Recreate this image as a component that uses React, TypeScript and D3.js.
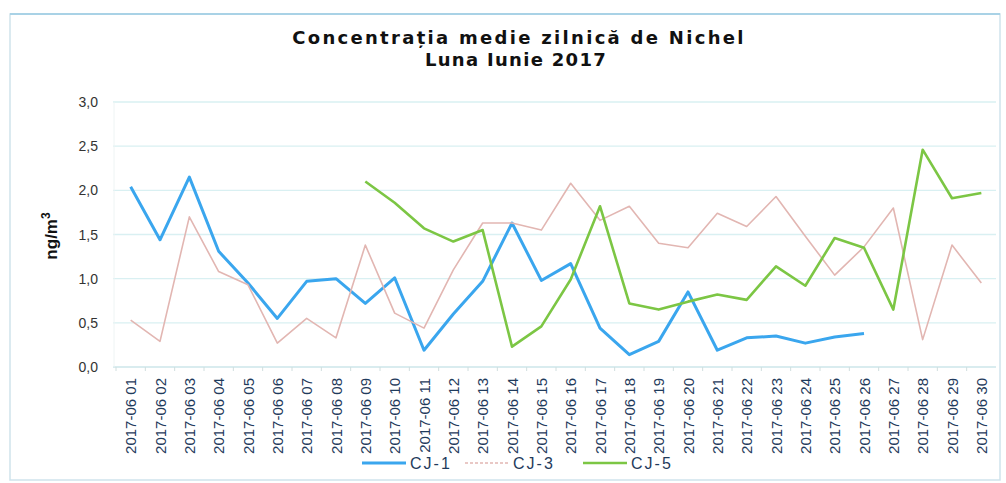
import React from "react";
import * as d3 from "d3";

const days = d3.range(1, 31).map((d) => `2017-06 ${String(d).padStart(2, "0")}`);
const cj1: (number | null)[] = [2.04, 1.44, 2.15, 1.31, 0.95, 0.55, 0.97, 1.0, 0.72, 1.01, 0.19, 0.6, 0.97, 1.63, 0.98, 1.17, 0.44, 0.14, 0.29, 0.85, 0.19, 0.33, 0.35, 0.27, 0.34, 0.38, null, null, null, null];
const cj3: (number | null)[] = [0.53, 0.29, 1.7, 1.08, 0.93, 0.27, 0.55, 0.33, 1.38, 0.61, 0.44, 1.1, 1.63, 1.63, 1.55, 2.08, 1.66, 1.82, 1.4, 1.35, 1.74, 1.59, 1.93, 1.48, 1.04, 1.36, 1.8, 0.31, 1.38, 0.95];
const cj5: (number | null)[] = [null, null, null, null, null, null, null, null, 2.1, 1.86, 1.57, 1.42, 1.55, 0.23, 0.46, 0.99, 1.82, 0.72, 0.65, 0.74, 0.82, 0.76, 1.14, 0.92, 1.46, 1.35, 0.65, 2.46, 1.91, 1.97];
const yTicks = [0, 0.5, 1, 1.5, 2, 2.5, 3];
const yTickLabels = ["0,0", "0,5", "1,0", "1,5", "2,0", "2,5", "3,0"];
const seriesNames = ["CJ-1", "CJ-3", "CJ-5"];
const seriesColors = ["#3aa6ee", "#e2b6b2", "#7cc644"];
const titleLines = ["Concentrația medie zilnică de Nichel", "Luna Iunie 2017"];

export default function App() {
  const W = 1006, H = 483;
  const left = 116, right = 996, top = 102, bottom = 367;
  const x = d3.scaleBand<string>().domain(days).range([left, right]);
  const y = d3.scaleLinear().domain([0, 3]).range([bottom, top]);
  const cx = (d: string) => (x(d) as number) + x.bandwidth() / 2;
  const line = d3
    .line<number | null>()
    .defined((d) => d !== null)
    .x((_, i) => cx(days[i]))
    .y((d) => y(d as number));
  const data = [cj1, cj3, cj5];
  const widths = [3, 1.6, 2.6];
  const legendX = [362, 465, 583];
  const textColor = "#1f3b5c";
  return (
    <svg width={W} height={H} style={{ position: "absolute", left: 0, top: 0, background: "#fff" }} fontFamily="Arial, 'Liberation Sans', sans-serif">
      <rect x={10} y={14} width={990} height={466} fill="#fff" stroke="#cfe3ec" strokeWidth={1.5} />
      <line x1={10} x2={1000} y1={14} y2={14} stroke="#a9d2e6" strokeWidth={2} />
      {titleLines.map((t, i) => (
        <text key={i} x={i === 0 ? 519 : 516} y={44 + i * 22} textAnchor="middle" fontFamily="'DejaVu Sans', sans-serif" fontSize={18} fontWeight="bold" letterSpacing={i === 0 ? 2.3 : 1.3} fill="#111">
          {t}
        </text>
      ))}
      {yTicks.map((v, i) => (
        <g key={v}>
          <line x1={left - 3} x2={right} y1={y(v)} y2={y(v)} stroke={v === 0 ? "#cde6ea" : "#d9f0f2"} strokeWidth={1.3} />
          <text x={98} y={y(v) + 5} textAnchor="end" fontSize={14} fill="#333">
            {yTickLabels[i]}
          </text>
        </g>
      ))}
      <line x1={left - 2} x2={left - 2} y1={top} y2={bottom} stroke="#eef4f4" strokeWidth={1} />
      {days.map((d) => (
        <line key={d} x1={(x(d) as number)} x2={(x(d) as number)} y1={bottom} y2={bottom + 4} stroke="#d0dede" />
      ))}
      <text transform={`translate(57,${236}) rotate(-90)`} textAnchor="middle" fontSize={17} fontWeight="bold" fill="#111">
        ng/m<tspan dy={-7} fontSize={12}>3</tspan>
      </text>
      {days.map((d) => (
        <text key={d} transform={`translate(${cx(d) + 5.5},${378}) rotate(-90)`} textAnchor="end" fontSize={15} fill={textColor}>
          {d}
        </text>
      ))}
      {data.map((s, i) => (
        <path key={i} d={line(s) || ""} fill="none" stroke={seriesColors[i]} strokeWidth={widths[i]} strokeLinejoin="round" />
      ))}
      {seriesNames.map((n, i) => (
        <g key={n}>
          <line x1={legendX[i]} x2={legendX[i] + 44} y1={463} y2={463} stroke={seriesColors[i]} strokeWidth={widths[i]} strokeDasharray={i === 1 ? "3 2" : undefined} />
          <text x={legendX[i] + 48} y={469} fontSize={16} letterSpacing={2} fill={textColor}>
            {n}
          </text>
        </g>
      ))}
    </svg>
  );
}
